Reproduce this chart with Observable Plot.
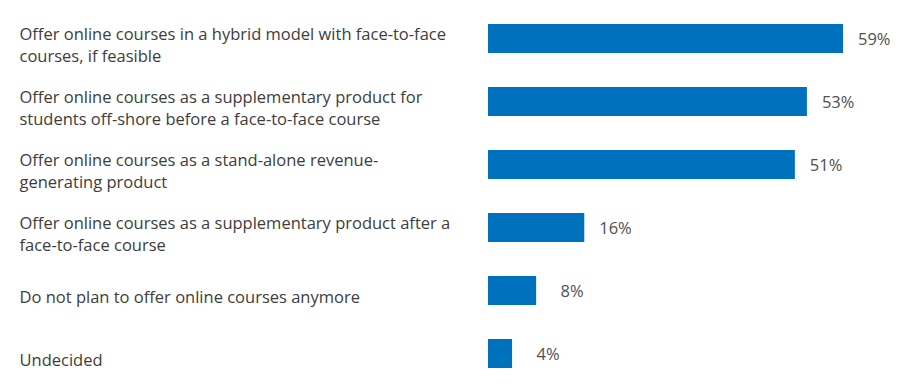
<!DOCTYPE html>
<html>
<head>
<meta charset="utf-8">
<script src="https://cdn.jsdelivr.net/npm/d3@7"></script>
<script src="https://cdn.jsdelivr.net/npm/@observablehq/plot@0.6"></script>
<style>
  html, body { margin: 0; padding: 0; background: #fff; }
  #chart svg { display: block; }
</style>
</head>
<body>
<div id="chart"></div>
<script>
const categories = [
  "Offer online courses in a hybrid model with face-to-face\ncourses, if feasible",
  "Offer online courses as a supplementary product for\nstudents off-shore before a face-to-face course",
  "Offer online courses as a stand-alone revenue-\ngenerating product",
  "Offer online courses as a supplementary product after a\nface-to-face course",
  "Do not plan to offer online courses anymore",
  "Undecided"
];
const values = [59, 53, 51, 16, 8, 4];

const data = categories.map((c, i) => ({ category: c, value: values[i] }));

const chart = Plot.plot({
  width: 900,
  height: 388,
  marginLeft: 488,
  marginRight: 57,
  marginTop: 10,
  marginBottom: 6,
  style: { fontFamily: "'Open Sans', sans-serif", background: "#fff" },
  x: { domain: [0, 59], axis: null },
  y: { domain: categories, paddingInner: 0.535, paddingOuter: 0.2, axis: null },
  marks: [
    Plot.barX(data, { x: "value", y: "category", fill: "#0071bd" }),
    Plot.text(data, {
      x: 0, y: "category", text: "category",
      textAnchor: "start", dx: -469, dy: 5,
      fontSize: 16.5, lineHeight: 1.36, fill: "#3d3d3d"
    }),
    Plot.text(data, {
      x: "value", y: "category", text: d => d.value + "%",
      textAnchor: "end", dx: 47, dy: 1,
      fontSize: 16.5, fill: "#505050"
    })
  ]
});
document.getElementById("chart").appendChild(chart);
</script>
</body>
</html>
